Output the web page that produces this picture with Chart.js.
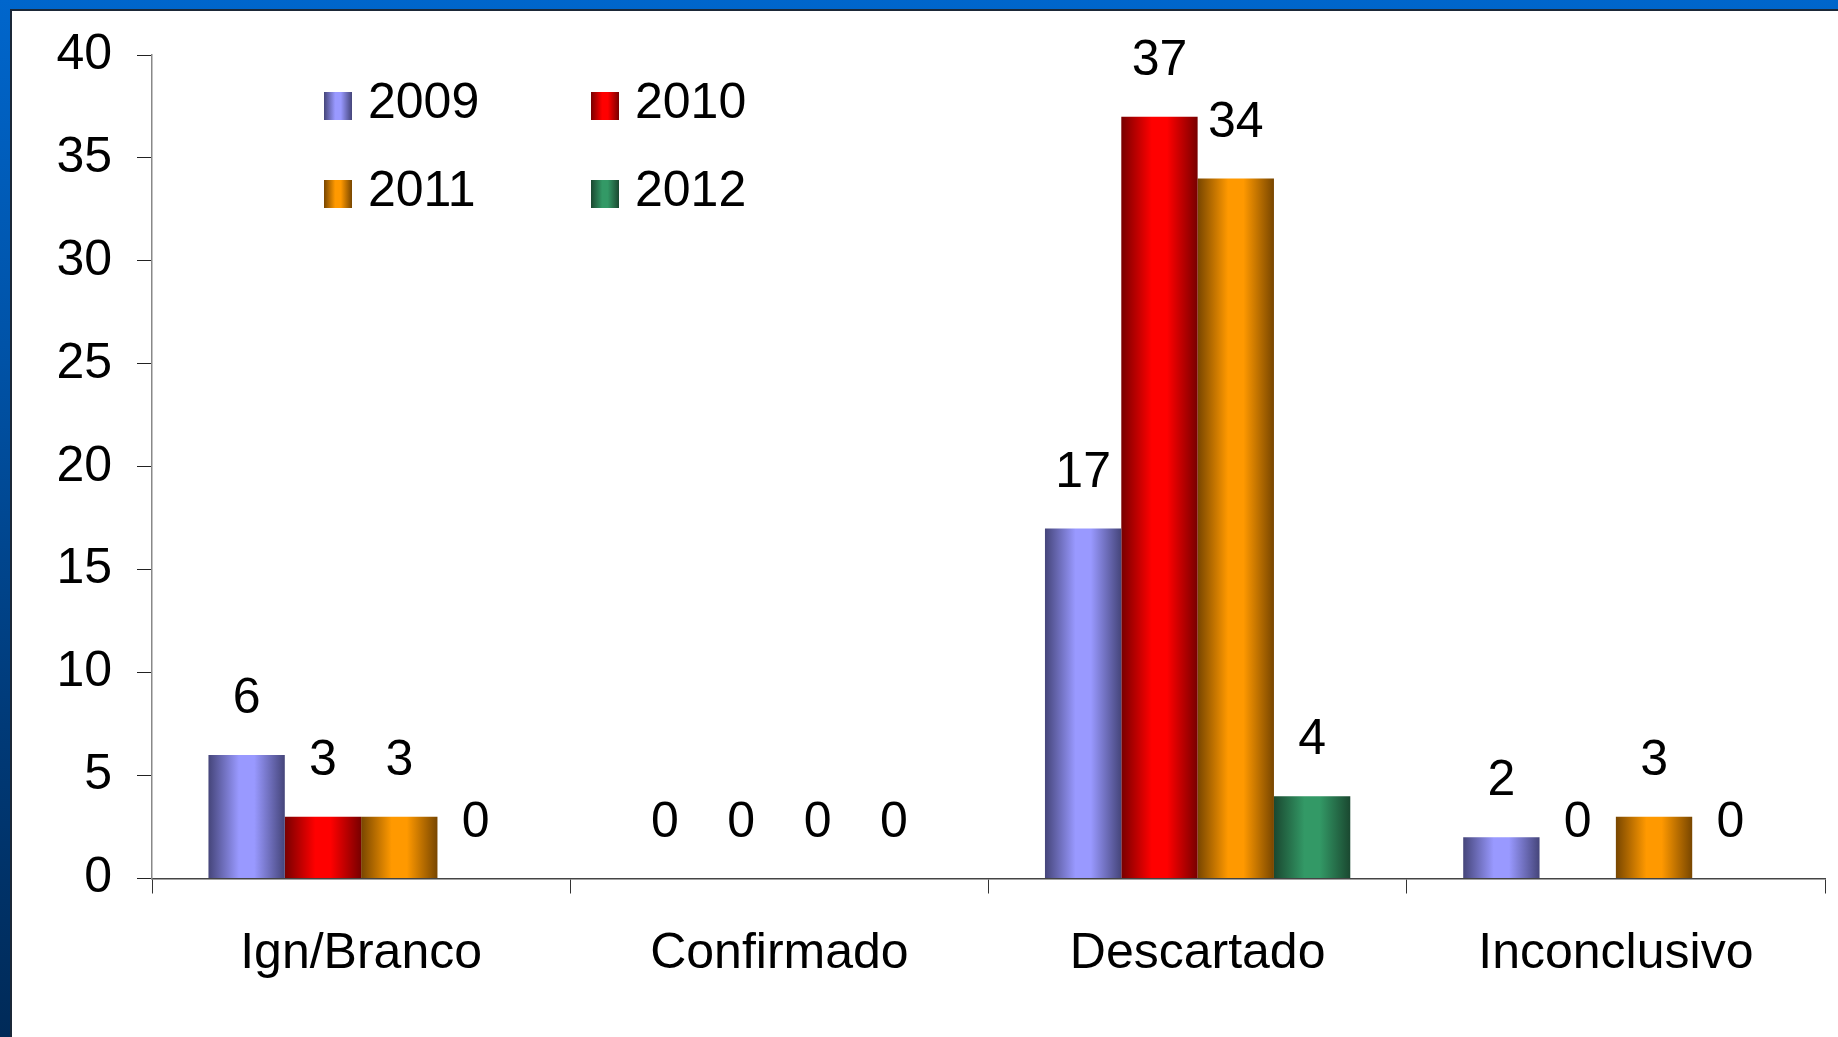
<!DOCTYPE html>
<html><head><meta charset="utf-8">
<script src="https://cdn.jsdelivr.net/npm/chart.js@4.4.1/dist/chart.umd.min.js"></script>
<style>
html,body{margin:0;padding:0;width:1838px;height:1037px;overflow:hidden;}
body{background:linear-gradient(to bottom,#0066cc 0%,#0052a6 35%,#003a78 70%,#002a58 100%);position:relative;}
#panel{position:absolute;left:10px;top:9px;right:0;bottom:0;background:#fff;border-top:2px solid #1b2838;border-left:2px solid #1b2838;box-sizing:border-box;}
#wrap{position:absolute;left:0;top:0;width:1838px;height:1037px;}
</style></head><body>
<div id="panel"></div>
<div id="wrap"><canvas id="c" width="1838" height="1037"></canvas></div>
<script>
// ---- data ----
const categories = ['Ign/Branco', 'Confirmado', 'Descartado', 'Inconclusivo'];
const seriesLabels = ['2009', '2010', '2011', '2012'];
const values2009 = [6, 0, 17, 2];
const values2010 = [3, 0, 37, 0];
const values2011 = [3, 0, 34, 3];
const values2012 = [0, 0, 4, 0];
const yTickValues = [0, 5, 10, 15, 20, 25, 30, 35, 40];

// ---- styles ----
const FONT = 'Liberation Sans, Arial, sans-serif';
const FS = 50;
const palette = [
  {edge: '#45457a', mid: '#9999ff'},
  {edge: '#780000', mid: '#ff0000'},
  {edge: '#784600', mid: '#ff9900'},
  {edge: '#1a4830', mid: '#339966'}
];

function makeGrad(ctx, x0, x1, c) {
  const g = ctx.createLinearGradient(x0, 0, x1, 0);
  g.addColorStop(0, c.edge);
  g.addColorStop(0.4, c.mid);
  g.addColorStop(0.6, c.mid);
  g.addColorStop(1, c.edge);
  return g;
}

const gradPlugin = {
  id: 'gradBars',
  beforeDatasetsDraw(chart) {
    const ctx = chart.ctx;
    chart.data.datasets.forEach((ds, i) => {
      const meta = chart.getDatasetMeta(i);
      meta.data.forEach(el => {
        let base = el.options;
        while (base && base.__grad) base = Object.getPrototypeOf(base);
        const x0 = el.x - el.width / 2, x1 = el.x + el.width / 2;
        const o = Object.create(base);
        Object.defineProperty(o, 'backgroundColor', {value: makeGrad(ctx, x0, x1, palette[i])});
        Object.defineProperty(o, '__grad', {value: true});
        el.options = o;
      });
    });
  }
};

const labelPlugin = {
  id: 'valueLabels',
  afterDatasetsDraw(chart) {
    const ctx = chart.ctx;
    ctx.save();
    ctx.font = FS + 'px ' + FONT;
    ctx.fillStyle = '#000';
    ctx.textAlign = 'center';
    ctx.textBaseline = 'alphabetic';
    chart.data.datasets.forEach((ds, i) => {
      const meta = chart.getDatasetMeta(i);
      meta.data.forEach((el, j) => {
        ctx.fillText(String(ds.data[j]), el.x, el.y - 42);
      });
    });
    ctx.restore();
  }
};

const legendPlugin = {
  id: 'gridLegend',
  afterDraw(chart) {
    const ctx = chart.ctx;
    const a = chart.chartArea;
    ctx.save();
    ctx.font = FS + 'px ' + FONT;
    ctx.fillStyle = '#000';
    ctx.textAlign = 'left';
    ctx.textBaseline = 'alphabetic';
    chart.data.datasets.forEach((ds, i) => {
      const col = i % 2, row = Math.floor(i / 2);
      const bx = a.left + 172 + col * 267;
      const by = a.top + 37 + row * 88;
      ctx.fillStyle = makeGrad(ctx, bx, bx + 28, palette[i]);
      ctx.fillRect(bx, by, 28, 28);
      ctx.fillStyle = '#000';
      ctx.fillText(ds.label, bx + 44, by + 26);
    });
    ctx.restore();
  }
};

const seriesValues = [values2009, values2010, values2011, values2012];
const datasets = seriesLabels.map((lab, i) => ({
  label: lab,
  data: seriesValues[i],
  backgroundColor: () => palette[i].mid,
  borderWidth: 0,
  categoryPercentage: 0.73,
  barPercentage: 1.0
}));

new Chart(document.getElementById('c'), {
  type: 'bar',
  data: {labels: categories, datasets},
  options: {
    responsive: false,
    devicePixelRatio: 1,
    animation: false,
    events: [],
    layout: {padding: {top: 54, right: 13, left: 0, bottom: 0}},
    plugins: {legend: {display: false}, tooltip: {enabled: false}},
    scales: {
      x: {
        z: 1,
        grid: {offset: true, drawOnChartArea: false, drawTicks: true, tickLength: 15, color: '#333', lineWidth: 1},
        border: {display: true, color: '#444', width: 1.5},
        ticks: {font: {family: FONT, size: FS}, color: '#000', padding: 31, maxRotation: 0, autoSkip: false},
        afterFit(s) { s.height = 158.5; }
      },
      y: {
        z: 1,
        min: 0, max: 40,
        afterBuildTicks(s) { s.ticks = yTickValues.map(v => ({value: v})); },
        grid: {drawOnChartArea: false, drawTicks: true, tickLength: 15, color: '#222', lineWidth: 1},
        border: {display: true, color: '#888', width: 1.5},
        ticks: {font: {family: FONT, size: FS}, color: '#000', padding: 25},
        afterFit(s) { s.width = 152; }
      }
    }
  },
  plugins: [gradPlugin, labelPlugin, legendPlugin]
});
</script>
</body></html>
